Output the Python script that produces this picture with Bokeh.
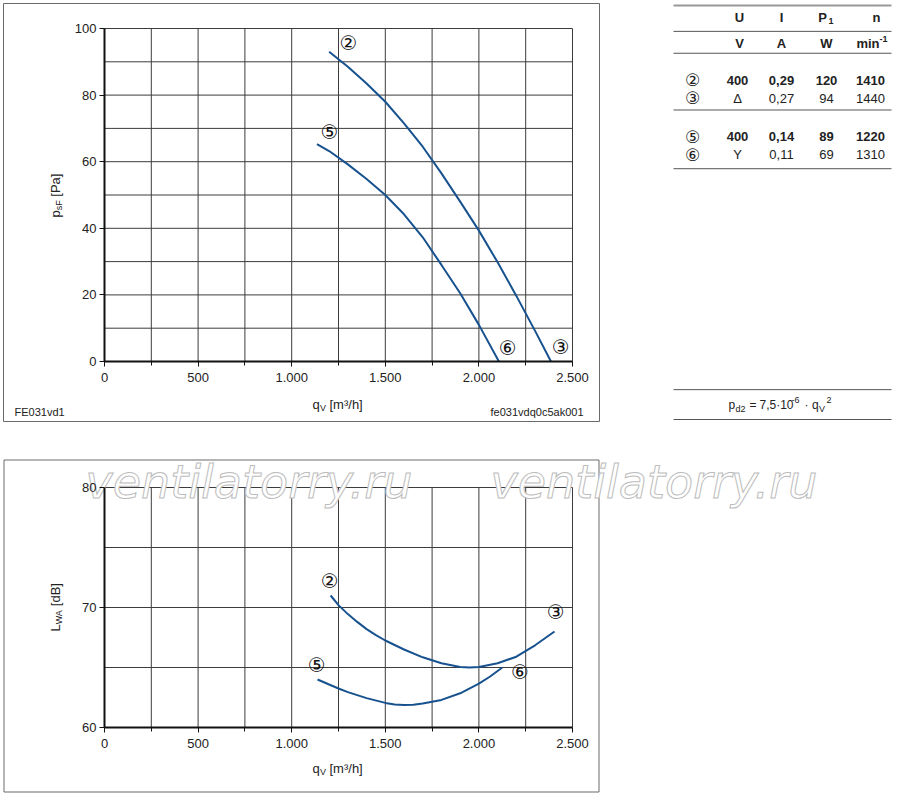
import math
from bokeh.plotting import figure
from bokeh.models import Range1d, FixedTicker
from bokeh.layouts import row, column
from bokeh.embed import file_html
from bokeh.resources import INLINE
from bokeh.core.properties import value

# ---------------- data ----------------
q_ticks = [0, 500, 1000, 1500, 2000, 2500]
q_tick_labels = ["0", "500", "1.000", "1.500", "2.000", "2.500"]
q_minor = [250, 750, 1250, 1750, 2250]
p_ticks = [0, 20, 40, 60, 80, 100]
p_grid = [0, 10, 20, 30, 40, 50, 60, 70, 80, 90, 100]
L_ticks = [60, 70, 80]
L_grid = [60, 65, 70, 75, 80]

pressure_23_q = [1200, 1300, 1400, 1500, 1600, 1700, 1800, 1900, 2000, 2100, 2200, 2300, 2385]
pressure_23_p = [93.0, 88.5, 83.5, 78.0, 71.5, 64.5, 56.5, 48.0, 39.3, 29.8, 19.7, 9.2, 0.0]
pressure_56_q = [1135, 1200, 1300, 1400, 1500, 1600, 1700, 1800, 1900, 2000, 2107]
pressure_56_p = [65.3, 63.2, 59.2, 54.8, 50.0, 44.2, 37.3, 29.0, 20.5, 11.0, 0.0]

noise_23_q = [1208, 1250, 1300, 1350, 1400, 1450, 1500, 1600, 1700, 1800, 1900, 1950, 2000, 2100, 2200, 2300, 2404]
noise_23_L = [71.0, 70.2, 69.45, 68.8, 68.2, 67.7, 67.25, 66.5, 65.85, 65.35, 65.05, 65.0, 65.05, 65.35, 65.9, 66.85, 68.0]
noise_56_q = [1138, 1200, 1250, 1300, 1400, 1500, 1550, 1600, 1650, 1700, 1800, 1900, 2000, 2060, 2125]
noise_56_L = [64.0, 63.58, 63.25, 62.95, 62.45, 62.05, 61.92, 61.88, 61.9, 62.0, 62.3, 62.85, 63.65, 64.25, 65.0]

top_marks = ["②", "⑤", "⑥", "③"]
top_marks_q = [1303, 1202, 2154, 2437]
top_marks_p = [95.5, 69.0, 4.2, 4.5]
bot_marks = ["②", "③", "⑤", "⑥"]
bot_marks_q = [1203, 2410, 1134, 2219]
bot_marks_L = [72.25, 69.6, 65.25, 64.6]

table_header = ["U", "I", "P", "n"]
table_units = ["V", "A", "W", "min"]
table_marks = ["②", "③", "⑤", "⑥"]
table_U = ["400", "Δ", "400", "Y"]
table_I = ["0,29", "0,27", "0,14", "0,11"]
table_P1 = ["120", "94", "89", "69"]
table_n = ["1410", "1440", "1220", "1310"]
table_bold = [True, False, True, False]

watermark = "ventilatorry.ru"

FONT = "Liberation Sans"
CFONT = "DejaVu Sans"
BLUE = "#17528f"
GRID = "#3c3c3c"
TXT = "#222222"
BOXC = "#6a6a6a"

# page-pixel -> data helpers (used only to place frames and annotation texts)
def tx(px):
    return (px - 104) / 468 * 2500

def ty_top(py):
    return (361 - py) / 333 * 100

def ty_bot(py):
    return 80 - (py - 487) / 12


def make_chart(width, height, page_left, page_top, ty, y_lo, y_hi, yticks, ygrid, border):
    p = figure(width=width, height=height, title=None,
               x_range=Range1d(tx(page_left + border), tx(page_left + width - border)),
               y_range=Range1d(ty(page_top + height - border), ty(page_top + border)),
               output_backend="svg", toolbar_location=None, min_border=border)
    p.grid.visible = False
    vg = sorted(q_ticks + q_minor)
    p.segment(x0=vg, y0=[y_lo] * len(vg), x1=vg, y1=[y_hi] * len(vg),
              line_color=GRID, line_width=1)
    p.segment(x0=[0] * len(ygrid), y0=ygrid, x1=[2500] * len(ygrid), y1=ygrid,
              line_color=GRID, line_width=1)
    p.xaxis.ticker = FixedTicker(ticks=q_ticks, minor_ticks=q_minor)
    p.xaxis.major_label_overrides = dict(zip(q_ticks, q_tick_labels))
    p.yaxis.ticker = FixedTicker(ticks=yticks, minor_ticks=[])
    p.xaxis.fixed_location = y_lo
    p.yaxis.fixed_location = 0
    p.xaxis.bounds = (0, 2500)
    p.yaxis.bounds = (y_lo, y_hi)
    for ax in (p.xaxis[0], p.yaxis[0]):
        ax.axis_line_color = "#111111"
        ax.axis_line_width = 2
        ax.major_tick_line_color = "#111111"
        ax.major_tick_in = 0
        ax.major_tick_out = 5
        ax.minor_tick_line_color = "#111111"
        ax.minor_tick_in = 0
        ax.minor_tick_out = 4
        ax.major_label_text_font = FONT
        ax.major_label_text_font_size = "13px"
        ax.major_label_text_color = TXT
    p.xaxis.major_label_standoff = 6
    p.yaxis.major_label_standoff = 3
    p.outline_line_color = BOXC if border else None
    p.outline_line_width = 1
    return p


def txt(p, xs, ys, texts, size="13px", angle=0.0, align="left", style="normal", font=FONT, color=TXT):
    p.text(x=xs, y=ys, text=texts, text_font=value(font), text_font_size=size,
           text_font_style=style, text_color=color, angle=angle,
           text_align=align, text_baseline="middle")


# ---------------- top chart (frame = outer box, page 3..599 x 3..421) ----------------
top = make_chart(598, 420, 2, 2, ty_top, 0, 100, p_ticks, p_grid, 1)
top.line(pressure_23_q, pressure_23_p, line_color=BLUE, line_width=2)
top.line(pressure_56_q, pressure_56_p, line_color=BLUE, line_width=2)
txt(top, top_marks_q, top_marks_p, top_marks, size="20px", align="center", font=CFONT, color="#111111")
txt(top, [tx(312)], [ty_top(404)], ["q"])
txt(top, [tx(319.5)], [ty_top(407)], ["V"], size="9px")
txt(top, [tx(329)], [ty_top(404)], ["[m³/h]"])
txt(top, [tx(55)], [ty_top(217)], ["p"], angle=math.pi / 2)
txt(top, [tx(58.5)], [ty_top(209.8)], ["sF"], size="9px", angle=math.pi / 2)
txt(top, [tx(55)], [ty_top(196.2)], ["[Pa]"], angle=math.pi / 2)
txt(top, [tx(14)], [ty_top(411)], ["FE031vd1"], size="11px")
txt(top, [tx(583)], [ty_top(411)], ["fe031vdq0c5ak001"], size="11px", align="right")

# ---------------- table ----------------
tab = figure(width=296, height=420, title=None, x_range=Range1d(600, 896), y_range=Range1d(422, 2),
             output_backend="svg", toolbar_location=None, min_border=0,
             x_axis_location=None, y_axis_location=None, outline_line_color=None)
tab.grid.visible = False
line_y = [30, 52, 109, 168, 390, 420]
tab.segment(x0=[673], y0=[4], x1=[891], y1=[4], line_color="#999999", line_width=2)
tab.segment(x0=[673] * len(line_y), y0=line_y, x1=[891] * len(line_y), y1=line_y,
            line_color="#555555", line_width=1)
col_x = [737, 781, 826, 870]
row_y = [79, 97, 136, 154]

txt(tab, [739, 781, 822, 876], [16, 16, 16, 16], table_header, style="bold", align="center")
txt(tab, [828], [20], ["1"], size="9px", style="bold")
txt(tab, [739, 781, 826], [42, 42, 42], table_units[:3], style="bold", align="center")
txt(tab, [879], [42], [table_units[3]], style="bold", align="right")
txt(tab, [879], [38], ["-1"], size="9px", style="bold")
txt(tab, [692] * 4, row_y, table_marks, size="17px", font=CFONT, align="center")
for i in range(4):
    st = "bold" if table_bold[i] else "normal"
    txt(tab, col_x, [row_y[i]] * 4, [table_U[i], table_I[i], table_P1[i], table_n[i]],
        style=st, align="center")
# formula p_d2 = 7,5·10^-6 · q_V^2
txt(tab, [728], [405], ["p"], size="12px")
txt(tab, [735], [409], ["d2"], size="9px")
txt(tab, [749], [405], ["="], size="12px")
txt(tab, [759], [405], ["7,5·10"], size="12px")
txt(tab, [791], [400], ["-6"], size="9px")
txt(tab, [804], [405], ["·"], size="12px")
txt(tab, [811.5], [405], ["q"], size="12px")
txt(tab, [818.5], [409], ["V"], size="9px")
txt(tab, [826], [400], ["2"], size="9px")

# ---------------- bottom chart (canvas page 2..896 x 422..793) ----------------
bot = make_chart(894, 371, 2, 422, ty_bot, 60, 80, L_ticks, L_grid, 0)
bot.quad(left=[tx(3.5)], right=[tx(598.5)], top=[ty_bot(459.5)], bottom=[ty_bot(791.5)],
         fill_alpha=0, line_color=BOXC, line_width=1)
bot.line(noise_23_q, noise_23_L, line_color=BLUE, line_width=2)
bot.line(noise_56_q, noise_56_L, line_color=BLUE, line_width=2)
txt(bot, bot_marks_q, bot_marks_L, bot_marks, size="20px", align="center", font=CFONT, color="#111111")
txt(bot, [tx(312)], [ty_bot(768)], ["q"])
txt(bot, [tx(319.5)], [ty_bot(771)], ["V"], size="9px")
txt(bot, [tx(329)], [ty_bot(768)], ["[m³/h]"])
txt(bot, [tx(55)], [ty_bot(631)], ["L"], angle=math.pi / 2)
txt(bot, [tx(58.5)], [ty_bot(623.8)], ["WA"], size="9px", angle=math.pi / 2)
txt(bot, [tx(55)], [ty_bot(605.7)], ["[dB]"], angle=math.pi / 2)

wm_kw = dict(x=[tx(85), tx(490)], y=[ty_bot(481), ty_bot(481)], text=[watermark, watermark],
             text_font=value(CFONT), text_font_size="46px", text_font_style="italic",
             text_color="white", text_align="left", text_baseline="middle")
try:
    bot.text(text_outline_color="#bcbcbc", **wm_kw)
except Exception:
    wm_kw["text_color"] = "#d6d6d6"
    bot.text(**wm_kw)

root = column(row(top, tab), bot, margin=(2, 0, 0, 2))
open("out.html", "w").write(file_html(root, INLINE))
